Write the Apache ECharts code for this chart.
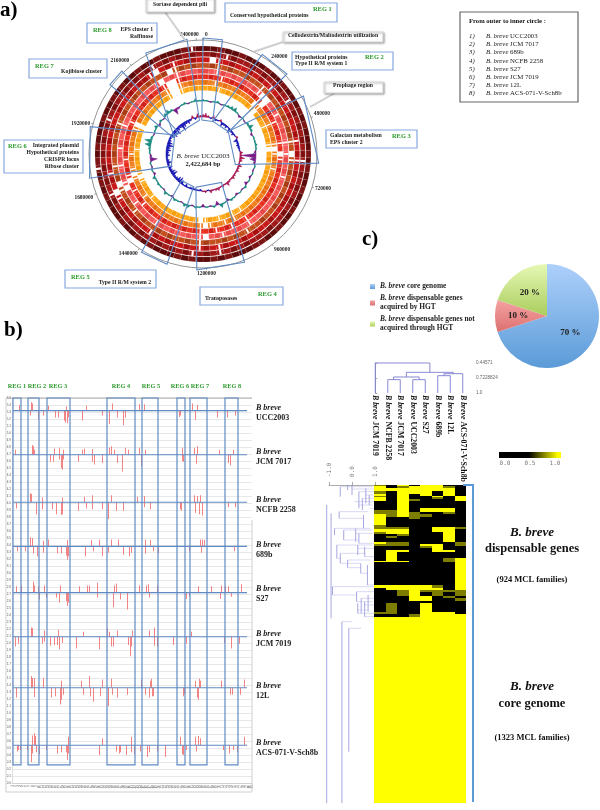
<!DOCTYPE html>
<html><head><meta charset="utf-8">
<style>html,body{margin:0;padding:0;background:#fff}#c{width:600px;height:810px}</style>
<script src="https://cdn.jsdelivr.net/npm/echarts@6/dist/echarts.min.js"></script>
</head><body><div id="c"></div>
<script>
// ---------- panel a: circular genome ----------
const genomeLengthKb = 2422.684;
const cellKb = genomeLengthKb / 90;
// one string per ring, outer to inner; one digit per 4 degree cell: 1 light, 2 base, 3 dark, 0 narrow slit, 4 missing
const ringUCC2003 = "3323323332 3323332323 3323233233 2332332233 3232332323 3323233233 3232302323 3323323233 2332333203";
const ringJCM7017 = "2320322323 2232023232 3230232323 2322322232 3202320323 2322323232 3023232323 2302322323 2302323232";
const ring689b    = "2402322323 2023223223 0230232323 3223223232 2302302322 3230223232 0423032323 2322322323 3042302332";
const ringNCFB    = "2302322322 0232323233 0240232323 2322322023 2322302322 3232232023 2043202323 2302322322 3223403232";
const ringS27     = "3203232323 0442303232 0203230232 3223220232 3032402322 3230232302 3403203203 2302323232 3042303223";
const ringJCM7019 = "2320232322 3042320232 0240232323 2322320220 3203203232 3232232032 0240320323 2320322323 2304403232";
const ring12L     = "3202322322 3402320323 0403202323 3232323203 0230403232 3232232302 3204023023 2304323232 3204402322";
const ringACS     = "2320232322 3042320323 0423023232 3232320203 2023040323 2323232023 2040323202 3204232323 2304402232";
const gcContent = [2,1,-1,1,2,-1,1,2,3,4, 1,-2,1,-1,2,5,2,-2,1,1, 2,1,-2,-15,-6,-2,1,-1,1,-2, 1,-3,2,-1,1,-2,1,2,-3,1,
  4,-4,2,-1,1,-3,1,2,-1,3, 3,-1,1,2,-2,1,3,-1,1,2, 1,3,-2,1,-1,1,-7,-2,1,2, 6,7,2,-1,1,3,-2,2,-1,3, 4,2,-6,-2,1,2,-1,1,3,1];
const gcSkew = [3,4,2,-1,3,-2,-1,2,-4,-2, -3,-1,-5,-2,-3,-1,2,-4,-2,-3, -2,-1,3,2,5,3,1,4,2,3, 1,2,3,1,2,4,1,2,1,3,
  2,1,3,-1,2,1,-2,-1,-2,-3, -2,-1,-3,-1,-4,-6,-5,-3,-2,-6, -5,-3,-4,-2,-5,-3,-2,-4,-3,-5, -4,-7,-5,-3,-2,-4,-6,-5,-7,-4, -3,-8,-5,-3,-4,-2,3,-2,4,2];
// [outer start, outer end, inner start, inner end] in kb
const genomeRegions = [
  [0,65,-13,112],[207,312,114,330],[404,636,323,727],[1070,1232,989,1292],
  [1333,1427,1319,1474],[1736,1909,1676,2046],[2064,2124,2010,2097],[2224,2369,2029,2382]
];
// ---------- panel b: per-genome spikes, [bin, height] ----------
const spikeUCC = [[19,.8],[31,1.2],[32,1],[48,.7],[66,.6],[86,.7],[112,1],[139,.9],[144,.9],[192,1],[197,.8],[30,-.7],[38,-1.2],[43,-.7],[55,-1],[58,-1],[64,-1.4],[65,-1.7],[67,-1.8],[68,-1],[82,-1.4],[102,-.7],[109,-1.9],[117,-1],[123,-2.1],[125,-1],[179,-.9],[180,-.7],[195,-1.3],[217,-1],[227,-1],[235,-.7]];
const spikeJCM7017 = [[15,.7],[32,1.4],[33,1.2],[34,.7],[54,.9],[59,1],[63,.7],[82,.7],[84,.9],[92,.8],[109,1],[111,1.2],[114,.7],[125,1],[128,.7],[139,1],[145,.7],[182,1],[194,1],[197,1.2],[219,.7],[233,.7],[50,-1],[53,-1],[59,-.7],[61,-1.9],[62,-2.1],[63,-.7],[78,-1],[92,-1],[94,-1.4],[102,-1.2],[117,-1.2],[122,-2.4],[141,-1.7],[182,-.9],[183,-1],[196,-1.3],[228,-1.2],[230,-1.5]];
const spikeNCFB = [[30,1.3],[31,1.2],[42,.7],[62,.7],[84,.8],[92,1],[111,1],[137,.8],[144,.9],[194,1],[197,.9],[200,1],[16,-.9],[36,-1.7],[42,-1],[52,-1],[56,-1.7],[61,-1.8],[62,-1.7],[78,-1.2],[86,-.9],[92,-1],[102,-1],[108,-2.4],[116,-1.2],[123,-1.2],[144,-.7],[150,-1],[180,-1],[181,-1.2],[195,-1.5],[199,-1.7],[202,-1.9],[228,-.7],[235,-.7]];
const spike689b = [[30,1.3],[32,1.2],[43,.8],[48,1],[67,.9],[91,.9],[99,1],[111,1],[118,1],[145,1],[150,.9],[200,1],[202,1],[204,.9],[17,-.7],[25,-.7],[33,-1],[37,-1.4],[43,-.9],[57,-1],[61,-1],[66,-1.3],[67,-1.9],[68,-1.4],[85,-1.4],[93,-.7],[102,-1.4],[108,-.9],[123,-1.2],[129,-1.4],[131,-.9],[145,-1],[153,-.7],[158,-1],[189,-.7],[201,-.9],[234,-.7]];
const spikeS27 = [[16,.9],[21,1],[33,1.6],[34,1],[38,.9],[44,1],[60,1],[79,.9],[87,1],[89,1],[97,1.4],[114,1],[116,1.3],[139,1],[146,1],[148,1.2],[157,1],[198,.9],[211,.9],[221,1],[225,.9],[228,.9],[241,1.2],[39,-1],[46,-.7],[56,-.7],[59,-1.4],[66,-1.2],[67,-1.9],[68,-1.4],[97,-.7],[113,-2.1],[120,-1],[127,-2.4],[149,-.7],[186,-.9],[189,-.6],[220,-.9],[231,-.6]];
const spikeJCM7019 = [[31,1.3],[32,1.2],[44,.9],[58,1],[83,.7],[107,1.2],[109,.7],[117,.9],[132,.9],[149,.9],[154,1.3],[191,.7],[15,-1.4],[18,-1],[42,-1],[44,-.7],[50,-1.3],[54,-1.2],[57,-1.2],[59,-1.8],[62,-.9],[76,-1.7],[99,-1.8],[111,-1.4],[113,-1.4],[128,-1.2],[130,-2.8],[131,-1.4],[154,-1.3],[157,-1.4],[173,-1.2],[186,-1],[224,-.9],[231,-1.7],[239,-1]];
const spike12L = [[31,1.7],[32,1.4],[34,1.4],[43,1.4],[61,1],[81,1],[89,1.7],[102,1.2],[111,1.3],[141,1.2],[150,1],[151,1.3],[195,1],[199,1.3],[200,1],[221,1],[244,1.2],[16,-1.4],[34,-1.3],[51,-1.4],[55,-1.2],[60,-2.4],[61,-1.7],[63,-1],[83,-1],[90,-1.2],[93,-2],[100,-1.2],[108,-2.6],[112,-1],[117,-1.4],[127,-1],[145,-1],[149,-1.4],[152,-1.2],[153,-1.2],[183,-1.2],[184,-.9],[197,-1.4],[198,-1.7],[230,-1],[232,-1],[240,-1]];
const spikeACS = [[32,1.4],[34,1.7],[35,1.3],[68,1.2],[102,1],[131,1.2],[180,1.2],[195,1.2],[198,1.3],[200,1],[244,1.2],[17,-.9],[18,-.7],[20,-.7],[27,-.7],[31,-2.4],[32,-1.2],[36,-1],[39,-1.3],[46,-.7],[57,-1.2],[61,-1],[66,-1],[67,-2.1],[68,-1.2],[99,-1.4],[116,-.9],[119,-1.2],[120,-1],[126,-1.4],[131,-1],[134,-1.3],[140,-.9],[147,-1.7],[149,-1],[157,-.9],[165,-1.7],[182,-1.3],[183,-1.4],[186,-.7],[196,-.9],[223,-.7],[229,-1.2],[233,-.7],[237,-1]];
const genomeBaselines = [53.2,46.9,40.1,33.8,27.2,20.9,13.6,5.4];
// [left, right] bin of each region
const binRegions = [[13,21],[28,39],[47,70],[107,135],[142,158],[177,185],[190,207],[225,238]];
// ---------- panel b right: heat map bands [first row, last row, strain pattern] Y=1 O=0.5 K=0 ----------
const heatColumns = 8;
const heatBands = [
 [0,4,"OKYKYYKK"],[4,10,"YKOYYYOK"],[10,18,"YYYYYYYK"],[18,28,"OKYYYKYK"],[28,32,"YKYKYKYK"],[32,36,"OKYKKYKY"],[36,42,"YKYKKOKY"],[42,48,"YKYOKKKY"],
 [48,70,"KKYKKKKK"],[70,76,"KKYKYYYK"],[76,82,"OOYKYYYK"],[82,88,"OOYOKKOK"],[88,95,"YOYOOKKK"],[95,102,"YKKOKKKK"],[102,120,"YKKKKKKK"],[120,125,"OKKKKKKK"],
 [125,132,"OOOKKYYO"],[132,140,"YYYKKYYK"],[140,148,"OYYKKKYK"],[148,152,"KKOKKKYK"],[152,160,"KOKKKKYK"],[160,172,"KKKKKKYK"],[172,177,"YOOKKKKO"],[177,182,"OOOKYYKO"],
 [182,188,"KKKKOYKK"],[188,195,"KKKKKYKK"],[195,202,"KYYKKYYK"],[202,220,"KYKKKKKK"],[220,228,"KYKKKKOY"],[228,232,"YYYKKKOY"],[232,300,"KKKKKKKY"],[300,308,"YYYYYOKY"],
 [308,315,"KYYYYYKY"],[315,322,"KKOYOOOO"],[322,332,"KKOYKOKO"],[332,340,"KKKYYKOK"],[340,348,"KKKYYKKO"],[348,355,"KKKKKKKK"],[355,380,"KOKKYKKK"],[380,386,"OOKKYYYK"],[386,395,"KKKOYYYY"],
 [395,954,"YYYYYYYY"]
];
// dendrograms, x in branch scale, y in heat rows; [x,y0,y1] and [y,x0,x1]
const geneTreeVertical = [[-1.1,60,954],[-.91,85,400],[-.85,305,330],[-.51,5,35],[-.56,80,100],[-.19,0,15],[0,0,30],[-.36,135,165],[-.76,130,150],[-.66,180,220],[-.51,205,235],[-.19,225,248],[.38,235,265],[.67,240,300],[-.44,410,954],[-.14,430,800],[.3,20,70],[.45,40,75],[.5,90,130],[.16,130,170],[.3,145,175],[.6,10,55],[.75,30,60],[.25,180,210],[.55,185,215],[.2,320,350],[.4,340,385],[.55,350,395],[.7,330,380],[.25,355,385]];
const geneTreeHorizontal = [[5,-.51,.9],[12,0,1],[20,.3,1],[30,.6,1],[40,.45,1],[50,.1,.95],[60,.3,.9],[70,.75,1],[80,-.56,.7],[100,-.56,.5],[135,-.36,.9],[130,-.76,.8],[145,.16,.9],[165,-.36,.3],[175,.3,1],[180,-.66,.9],[190,.25,1],[205,-.51,.6],[215,.55,1],[220,-.66,-.5],[225,-.19,.8],[235,-.51,.38],[248,-.19,.38],[265,.38,.67],[300,.67,1],[305,-.85,1],[320,.2,1],[330,-.85,.2],[340,.4,1],[350,.2,.9],[360,.55,1],[375,.25,.7],[385,.25,1],[395,.55,1],[410,-.44,0],[430,-.14,.4]];
const strainLeaves = ["JCM 7019","NCFB 2258","JCM 7017","UCC2003","S27","689b","12L","ACS-071-V-Sch8b"];
const strainTree = [[0,.4457,4.37,.4457],[0,.4457,0,1],[4.37,.4457,4.37,.618],[2.49,.618,6.25,.618],[2.49,.618,2.49,.704],[1.47,.704,3.51,.704],[1.47,.704,1.47,.753],[1,.753,2,.753],[1,.753,1,1],[2,.753,2,1],[3.51,.704,3.51,.753],[3,.753,4,.753],[3,.753,3,1],[4,.753,4,1],[6.25,.618,6.25,.643],[5.5,.643,7,.643],[7,.643,7,1],[5.5,.643,5.5,.68],[5,.68,6,.68],[5,.68,5,1],[6,.68,6,1]];
const strainTreeTicks = [0.44571,0.7228824,1];
// ---------- panel c ----------
const pieNames = ["core","hgt","nonhgt"];
const pieValues = [70,10,20];

const serif = '"Liberation Serif","Times New Roman",serif';
const ringShades = [
 ['#9c3a3a','#7d1414','#5e0a0a'],['#b84040','#a01818','#7f0f0f'],['#e34040','#c81818','#a81010'],['#d8703a','#c4501e','#a83c14'],
 ['#ff8080','#f85a5a','#e84848'],['#f55a3a','#e83020','#d02018'],['#f8a050','#f0801f','#e87010'],['#ffc040','#ffa818','#f89c08']];
const ringStrings = [ringUCC2003,ringJCM7017,ring689b,ringNCFB,ringS27,ringJCM7019,ring12L,ringACS];
const ringCells = [];
ringStrings.forEach((s,ri)=>{ [...s.replace(/ /g,'')].forEach((d,i)=>{ if(d!=='4') ringCells.push([ri,i,+d]); }); });
const ringOuter = ri => 108 - ri*5.65;

function sectorRender(params, api){
  const ri=api.value(0), i=api.value(1), d=api.value(2);
  const cs=params.coordSys;
  const sec=(a,b,fill,extra)=>({type:'sector',shape:{cx:cs.cx,cy:cs.cy,r:ringOuter(ri),r0:ringOuter(ri)-4.9,
    startAngle:-api.coord([10,a*cellKb])[3],endAngle:-api.coord([10,b*cellKb])[3],clockwise:true},style:Object.assign({fill},extra||{})});
  const seam={stroke:'rgba(255,255,255,.3)',lineWidth:.3};
  if(d===0) return {type:'group',children:[sec(i,i+1,ringShades[ri][1],seam),sec(i+.35,i+.65,'#fff')]};
  return sec(i,i+1,ringShades[ri][d-1],seam);
}
function spikeSeries(vals,base,pos,neg){
  return {type:'custom',coordinateSystem:'polar',polarIndex:0,silent:true,z:4,
    data:vals.map((v,i)=>[base,i*cellKb,v]),
    renderItem(p,api){
      const b=api.value(0),a=api.value(1),v=api.value(2);
      const pts=[[b,a-cellKb*.55],[b+v,a],[b,a+cellKb*.55]].map(q=>api.coord(q).slice(0,2));
      return {type:'polygon',shape:{points:pts},style:{fill:v>=0?pos:neg,stroke:v>=0?pos:neg,lineWidth:.5}};
    }};
}
function profile(vals,base,color){
  return {type:'line',coordinateSystem:'polar',polarIndex:0,silent:true,symbol:'none',z:3,lineStyle:{color,width:.8},
    data:vals.concat(vals[0]).map((v,i)=>[base+v*.35,i*cellKb])};
}
const spikeLists=[spikeUCC,spikeJCM7017,spikeNCFB,spike689b,spikeS27,spikeJCM7019,spike12L,spikeACS];
const spikeData=[];
spikeLists.forEach((l,g)=>l.forEach(s=>spikeData.push([s[0],genomeBaselines[g],s[1]])));
const heatColor={Y:'#ffff00',O:'#7d7d00',K:'#000000'};
const heatCells=[];
heatBands.forEach(b=>{ [...b[2]].forEach((c,x)=>heatCells.push([x,b[0],b[1],c])); });

// ---- text helpers
function T(x,y,text,o={}){
  return {type:'text',x,y,z:50,silent:true,style:Object.assign({text,fontFamily:serif,fontWeight:'bold',fontSize:5.7,fill:'#222',align:'left',verticalAlign:'middle',
    rich:{i:{fontStyle:'italic',fontFamily:serif,fontWeight:o.fontWeight||'bold',fontSize:o.fontSize||5.7,fill:o.fill||'#222'}}},o)};
}
function Box(x0,y0,x1,y1,stroke='#86a8e0',lw=1.2,shadow){
  const e={type:'rect',z:40,silent:true,shape:{x:x0,y:y0,width:x1-x0,height:y1-y0},style:{fill:'#fff',stroke,lineWidth:lw}};
  if(shadow) e.style=Object.assign(e.style,{shadowBlur:2,shadowColor:'rgba(0,0,0,.35)',shadowOffsetX:1,shadowOffsetY:1});
  return e;
}
function L(pts,stroke,lw,z=39){return {type:'polyline',z,silent:true,shape:{points:pts},style:{stroke,lineWidth:lw,fill:null}};}
const G='#2b9a2b';
const reg=(x,y,s,fs=6.4)=>T(x,y,s,{fill:G,fontSize:fs});
const gfx=[
 T(0,11,'a)',{fontSize:21,fill:'#000'}),T(4,331,'b)',{fontSize:21,fill:'#000'}),T(362,240,'c)',{fontSize:21,fill:'#000'}),
 L([[165,12],[185,40]],'#cfcfcf',2),L([[283,42],[253,52]],'#cfcfcf',2),L([[335,93],[310,107]],'#cfcfcf',2),
 Box(146,-2,214,12,'#d8d8d8',1,true),T(180,5,'Sortase dependent pili',{align:'center'}),
 Box(283,32,383,42,'#d8d8d8',1,true),T(333,36,'Cellodextrin/Maltodextrin utilization',{align:'center'}),
 Box(324,82,383,93,'#d8d8d8',1,true),T(353,86,'Prophage region',{align:'center'}),
 Box(225,3,337,22),T(230,16,'Conserved hypothetical proteins'),reg(313,9,'REG 1'),
 Box(292,52,393,70),T(295,58,'Hypothetical proteins'),T(295,64,'Type II R/M system 1'),reg(365,57,'REG 2'),
 Box(326,130,417,148),T(330,136,'Galactan metabolism'),T(330,143,'EPS cluster 2'),reg(392,136,'REG 3'),
 Box(200,287,283,305),T(205,299,'Transposases'),reg(258,294,'REG 4'),
 Box(65,270,156,288),reg(71,277,'REG 5'),T(151,283,'Type II R/M system 2',{align:'right'}),
 Box(4,140,83,173),reg(8,146,'REG 6'),T(79,146,'Integrated plasmid',{align:'right'}),T(79,153,'Hypothetical proteins',{align:'right'}),T(79,160,'CRISPR locus',{align:'right'}),T(79,167,'Ribose cluster',{align:'right'}),
 Box(29,59,107,78),reg(35,66,'REG 7'),T(102,72,'Kojibiose cluster',{align:'right'}),
 Box(87,23,157,43),reg(93,30,'REG 8'),T(153,30,'EPS cluster 1',{align:'right'}),T(153,37,'Raffinose',{align:'right'}),
 T(203,156,'{i|B. breve} UCC2003',{align:'center',fontSize:7,fontWeight:'normal'}),T(203,164,'2,422,684 bp',{align:'center',fontSize:6.5}),
 Box(460,12,578,102,'#666',1.2),T(469,21,'From outer to inner circle :',{fontSize:6.6,fill:'#111'}),
];
[["1)","UCC2003",36],["2)","JCM 7017",44],["3)","689b",52],["4)","NCFB 2258",61],["5)","S27",69],["6)","JCM 7019",77],["7)","12L",85],["8)","ACS-071-V-Sch8b",93]].forEach(r=>{
  gfx.push(T(469,r[2],r[0],{fontSize:6.8,fontWeight:'normal',fontStyle:'italic'}));
  gfx.push(T(486,r[2],'{i|B. breve} '+r[1],{fontSize:6.8,fontWeight:'normal'}));
});
[[17,'REG 1'],[37,'REG 2'],[58,'REG 3'],[121,'REG 4'],[151,'REG 5'],[180,'REG 6'],[200,'REG 7'],[232,'REG 8']].forEach(r=>gfx.push(T(r[0],386,r[1],{align:'center',fill:G,fontSize:6.3})));
[['UCC2003',408],['JCM 7017',452],['NCFB 2258',500],['689b',545],['S27',589],['JCM 7019',634],['12L',686],['ACS-071-V-Sch8b',743]].forEach(r=>{
  gfx.push(T(256,r[1],'B breve',{fontSize:8,fontStyle:'italic'}));
  gfx.push(T(256,r[1]+10,r[0],{fontSize:8}));
});
gfx.push(L([[6,398],[252,398]],'#999',.8,5),L([[6,398],[6,792],[252,792],[252,520]],'#cfcfcf',1,5));
gfx.push(L([[463,485],[473,485],[473,802]],'#5b9bd5',2));
gfx.push(T(532,533,'B. breve',{align:'center',fontSize:13,fontStyle:'italic',fill:'#111'}),T(532,549,'dispensable genes',{align:'center',fontSize:12.5,fill:'#111'}),T(532,580,'(924 MCL families)',{align:'center',fontSize:8.5,fill:'#111'}));
gfx.push(T(532,687,'B. breve',{align:'center',fontSize:13,fontStyle:'italic',fill:'#111'}),T(532,704,'core genome',{align:'center',fontSize:12.5,fill:'#111'}),T(532,738,'(1323 MCL families)',{align:'center',fontSize:8.5,fill:'#111'}));

const grad=(a,b)=>({type:'linear',x:0,y:0,x2:0,y2:1,colorStops:[{offset:0,color:a},{offset:1,color:b}]});
const noAxis={show:false};
const option={
 animation:false,backgroundColor:'#fff',
 polar:{center:[203,154],radius:114},
 radiusAxis:{min:0,max:114,show:false},
 angleAxis:{type:'value',min:0,max:genomeLengthKb,interval:240,startAngle:90,clockwise:true,z:2,
   axisLine:{lineStyle:{color:'#777',width:.8}},axisTick:{length:2,lineStyle:{color:'#555',width:.6}},splitLine:{show:false},
   axisLabel:{fontFamily:serif,fontWeight:'bold',fontSize:5.4,color:'#222',margin:3,
     formatter:v=>{const s=String(Math.round(v*1000)); return v===2400?s+'          ':v===0?'     '+s:s;}}},
 grid:[
  {left:12,top:398,width:240,height:385,show:false},
  {left:369,top:363,width:100,height:30,show:false},
  {left:329,top:485,width:46,height:318,show:false},
  {left:374,top:485,width:92,height:318,show:false},
  {left:505,top:452,width:50,height:6,show:false}
 ],
 xAxis:[
  {gridIndex:0,type:'value',min:12,max:252,interval:3,axisLine:{lineStyle:{color:'#bbb',width:.5}},axisTick:{show:false},splitLine:{show:false},
    axisLabel:{fontSize:3,color:'#555',rotate:90,margin:2,formatter:v=>String((v-12)/3+1)}},
  {gridIndex:1,type:'category',data:strainLeaves,position:'bottom',axisLine:noAxis,axisTick:noAxis,
    axisLabel:{rotate:-90,margin:2,interval:0,align:'left',verticalAlign:'middle',fontFamily:serif,fontWeight:'bold',fontSize:7.8,color:'#111',
      formatter:v=>'{i|B breve} '+v,rich:{i:{fontStyle:'italic',fontFamily:serif,fontWeight:'bold',fontSize:7.8,color:'#111'}}}},
  {gridIndex:1,type:'value',min:-0.5,max:7.5,show:false,position:'top'},
  {gridIndex:2,type:'value',min:-1,max:1,interval:1,position:'top',offset:6,axisLine:{lineStyle:{color:'#888',width:.7}},axisTick:{length:3,inside:false,lineStyle:{color:'#888',width:.7}},splitLine:{show:false},
    axisLabel:{rotate:90,fontFamily:'"DejaVu Sans Mono",monospace',fontSize:6,color:'#777',margin:2,formatter:v=>v.toFixed(1)}},
  {gridIndex:3,type:'value',min:0,max:heatColumns,show:false},
  {gridIndex:4,type:'value',min:0,max:1,interval:.5,axisLine:noAxis,axisTick:noAxis,splitLine:{show:false},
    axisLabel:{fontFamily:'"DejaVu Sans Mono",monospace',fontSize:6,color:'#777',margin:2,formatter:v=>v.toFixed(1)}}
 ],
 yAxis:[
  {gridIndex:0,type:'value',min:0,max:55,interval:1,axisLine:{lineStyle:{color:'#bbb',width:.5}},axisTick:{show:false},splitLine:{lineStyle:{color:'#dedede',width:.7}},
    axisLabel:{fontSize:3,color:'#555',margin:1,formatter:v=>(v/10).toFixed(1)}},
  {gridIndex:1,type:'value',inverse:true,min:0.44571,max:1,position:'right',offset:5,axisLine:{lineStyle:{color:'#888',width:.7}},axisTick:{length:2,lineStyle:{color:'#888',width:.7},customValues:strainTreeTicks},splitLine:{show:false},
    axisLabel:{customValues:strainTreeTicks,fontSize:4.6,color:'#666',margin:2,formatter:v=>v===1?'1.0':String(v)}},
  {gridIndex:2,type:'value',inverse:true,min:0,max:954,show:false},
  {gridIndex:3,type:'value',inverse:true,min:0,max:954,show:false},
  {gridIndex:4,type:'value',min:0,max:1,show:false}
 ],
 legend:{data:pieNames,orient:'vertical',left:365,top:277,itemWidth:5,itemHeight:5,itemGap:3,icon:'rect',selectedMode:false,
  textStyle:{fontFamily:serif,fontWeight:'bold',fontSize:7.4,color:'#222',lineHeight:9,rich:{i:{fontFamily:serif,fontWeight:'bold',fontStyle:'italic',fontSize:7.4,color:'#222',lineHeight:9}}},
  formatter:n=>({core:'{i|B. breve} core genome',hgt:'{i|B. breve} dispensable genes\nacquired by HGT',nonhgt:'{i|B. breve} dispensable genes not\nacquired through HGT'}[n])},
 graphic:{elements:gfx},
 series:[
  {type:'custom',coordinateSystem:'polar',polarIndex:0,silent:true,z:2,data:ringCells,renderItem:sectorRender},
  profile(gcContent,53,'#1b8a80'),profile(gcSkew,37,'#2020b0'),
  spikeSeries(gcContent,53,'#1a8a80','#7a1a8a'),
  spikeSeries(gcSkew,37,'#b0144a','#1414b4'),
  {type:'custom',coordinateSystem:'polar',polarIndex:0,silent:true,z:6,data:genomeRegions,
   renderItem(p,api){const r=genomeRegions[p.dataIndex];
     const pts=[[116,r[0]],[116,r[1]],[34,r[3]],[34,r[2]]].map(q=>api.coord(q).slice(0,2));
     return {type:'polygon',shape:{points:pts},style:{fill:'none',stroke:'#5f8ac4',lineWidth:1.1}};}},
  {type:'custom',coordinateSystem:'cartesian2d',xAxisIndex:0,yAxisIndex:0,silent:true,z:3,data:spikeData,
   renderItem(p,api){const s=spikeData[p.dataIndex];const a=api.coord([s[0],s[1]]),b=api.coord([s[0],s[1]+s[2]]);
     return {type:'rect',shape:{x:Math.round(a[0]),y:Math.min(a[1],b[1]),width:1,height:Math.abs(b[1]-a[1])},style:{fill:'rgba(240,110,110,.85)'}};}},
  {type:'custom',coordinateSystem:'cartesian2d',xAxisIndex:0,yAxisIndex:0,silent:true,z:4,data:genomeBaselines,
   renderItem(p,api){const v=genomeBaselines[p.dataIndex];const a=api.coord([13,v]),b=api.coord([247,v]);
     return {type:'line',shape:{x1:a[0],y1:a[1],x2:b[0],y2:b[1]},style:{stroke:'#5f8ac4',lineWidth:1.1}};}},
  {type:'custom',coordinateSystem:'cartesian2d',xAxisIndex:0,yAxisIndex:0,silent:true,z:5,data:binRegions,
   renderItem(p,api){const r=binRegions[p.dataIndex];const a=api.coord([r[0],55]),b=api.coord([r[1],2.6]);
     return {type:'rect',shape:{x:a[0],y:a[1],width:b[0]-a[0],height:b[1]-a[1]},style:{fill:'none',stroke:'#5f8ac4',lineWidth:1.2}};}},
  {type:'custom',coordinateSystem:'cartesian2d',xAxisIndex:2,yAxisIndex:1,silent:true,z:3,data:strainTree,
   renderItem(p,api){const s=strainTree[p.dataIndex];const a=api.coord([s[0],s[1]]),b=api.coord([s[2],s[3]]);
     return {type:'line',shape:{x1:a[0],y1:a[1],x2:b[0],y2:b[1]},style:{stroke:'#7c7cd0',lineWidth:.9}};}},
  {type:'custom',coordinateSystem:'cartesian2d',xAxisIndex:3,yAxisIndex:2,silent:true,z:3,data:geneTreeVertical,
   renderItem(p,api){const s=geneTreeVertical[p.dataIndex];const a=api.coord([s[0],s[1]]),b=api.coord([s[0],s[2]]);
     return {type:'line',shape:{x1:a[0],y1:a[1],x2:b[0],y2:b[1]},style:{stroke:'#8080d4',lineWidth:.7}};}},
  {type:'custom',coordinateSystem:'cartesian2d',xAxisIndex:3,yAxisIndex:2,silent:true,z:3,data:geneTreeHorizontal,
   renderItem(p,api){const s=geneTreeHorizontal[p.dataIndex];const a=api.coord([s[1],s[0]]),b=api.coord([s[2],s[0]]);
     return {type:'line',shape:{x1:a[0],y1:a[1],x2:b[0],y2:b[1]},style:{stroke:'#b0b0e8',lineWidth:.5}};}},
  {type:'custom',coordinateSystem:'cartesian2d',xAxisIndex:4,yAxisIndex:3,silent:true,z:3,data:heatCells,
   renderItem(p,api){const c=heatCells[p.dataIndex];const a=api.coord([c[0],c[1]]),b=api.coord([c[0]+1,c[2]]);
     const x=Math.round(a[0]),y=Math.round(a[1]);
     return {type:'rect',shape:{x,y,width:Math.round(b[0])-x,height:Math.round(b[1])-y},style:{fill:heatColor[c[3]]}};}},
  {type:'custom',coordinateSystem:'cartesian2d',xAxisIndex:5,yAxisIndex:4,silent:true,z:3,data:[[-0.12,1.12]],
   renderItem(p,api){const a=api.coord([-0.12,1]),b=api.coord([1.12,0]);
     return {type:'rect',shape:{x:a[0],y:a[1],width:b[0]-a[0],height:b[1]-a[1]},
       style:{fill:{type:'linear',x:0,y:0,x2:1,y2:0,colorStops:[{offset:0,color:'#000'},{offset:.48,color:'#000'},{offset:.95,color:'#ffff00'},{offset:1,color:'#ffff00'}]}}};}},
  {type:'pie',center:[547,316],radius:[0,52],startAngle:90,clockwise:true,silent:true,z:3,
   label:{position:'inside',formatter:'{c} %',fontFamily:serif,fontWeight:'bold',fontSize:9,color:'#222'},labelLine:{show:false},
   data:[
    {name:pieNames[0],value:pieValues[0],itemStyle:{color:grad('#aed0fb','#5b9bd8')}},
    {name:pieNames[1],value:pieValues[1],itemStyle:{color:grad('#f5a3a3','#dc7070')}},
    {name:pieNames[2],value:pieValues[2],itemStyle:{color:grad('#e6f8b4','#a9cd5c')}}
   ]}
 ]
};
const chart=echarts.init(document.getElementById('c'),null,{renderer:'canvas',width:600,height:810});
chart.setOption(option);
</script></body></html>
